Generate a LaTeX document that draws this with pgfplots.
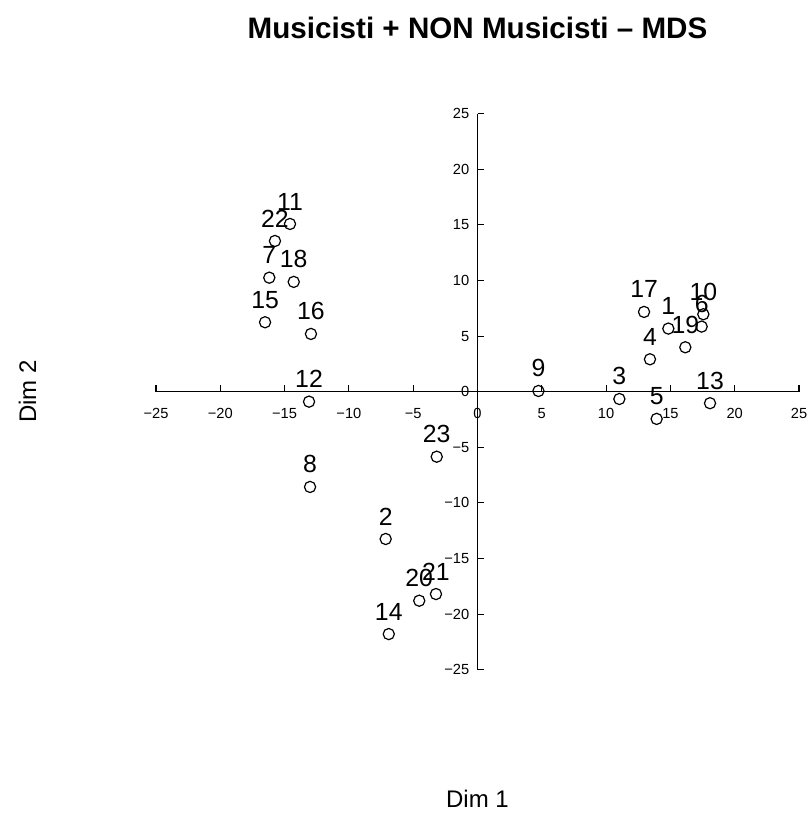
\documentclass[border=0pt]{standalone}
\usepackage{pgfplots}
\pgfplotsset{compat=1.18}
\usepackage{fontspec}
\setmainfont{Liberation Sans}
\begin{document}
\begin{tikzpicture}
\begin{axis}[
  scale only axis,
  width=482.25pt, height=417pt,
  xmin=-25, xmax=25, ymin=-25, ymax=25,
  axis lines=middle,
  axis line style={-, line width=0.8pt},
  enlargelimits=false,
  clip=false,
  xtick={-25,-20,...,25},
  ytick={-25,-20,...,25},
  xticklabels={−25,−20,−15,−10,−5,0,5,10,15,20,25},
  yticklabels={−25,−20,−15,−10,−5,0,5,10,15,20,25},
  hide obscured x ticks=false,
  hide obscured y ticks=false,
  tick align=inside,
  major tick length=5pt,
  tick style={line width=0.8pt, black},
  xticklabel style={anchor=north, inner sep=0pt, yshift=-12pt, font=\fontsize{11}{12}\selectfont},
  yticklabel style={anchor=east, inner sep=0pt, xshift=-6pt, font=\fontsize{11}{12}\selectfont},
]
\addplot[only marks, mark=o, mark size=4.2pt, mark options={line width=0.9pt, black},
  nodes near coords, point meta=explicit symbolic,
  nodes near coords style={anchor=south, inner sep=0pt, yshift=10pt, font=\fontsize{18.6}{20}\selectfont}]
  table[meta=label] {
x y label
14.84 5.67 1
-7.14 -13.25 2
11.03 -0.66 3
13.41 2.91 4
13.93 -2.45 5
17.43 5.85 6
-16.19 10.25 7
-13.02 -8.57 8
4.74 0.06 9
17.56 6.96 10
-14.58 15.08 11
-13.10 -0.90 12
18.08 -1.04 13
-6.90 -21.80 14
-16.52 6.24 15
-12.95 5.19 16
12.95 7.17 17
-14.29 9.87 18
16.16 3.99 19
-4.53 -18.80 20
-3.23 -18.20 21
-15.75 13.55 22
-3.17 -5.85 23
};
\node[anchor=base, font=\fontsize{22.2}{24}\selectfont\bfseries] at (axis cs:0,31.8) {Musicisti + NON Musicisti – MDS};
\node[anchor=base, font=\fontsize{18}{20}\selectfont] at (axis cs:0,-37.44) {Dim 1};
\node[anchor=base, rotate=90, font=\fontsize{18}{20}\selectfont] at (axis cs:-34.33,0) {Dim 2};
\coordinate (bl) at (axis cs:-37.13,-38.07);
\coordinate (tr) at (axis cs:25.78,35.22);
\end{axis}
\pgfresetboundingbox
\path[use as bounding box] (bl) rectangle (tr);
\end{tikzpicture}
\end{document}
